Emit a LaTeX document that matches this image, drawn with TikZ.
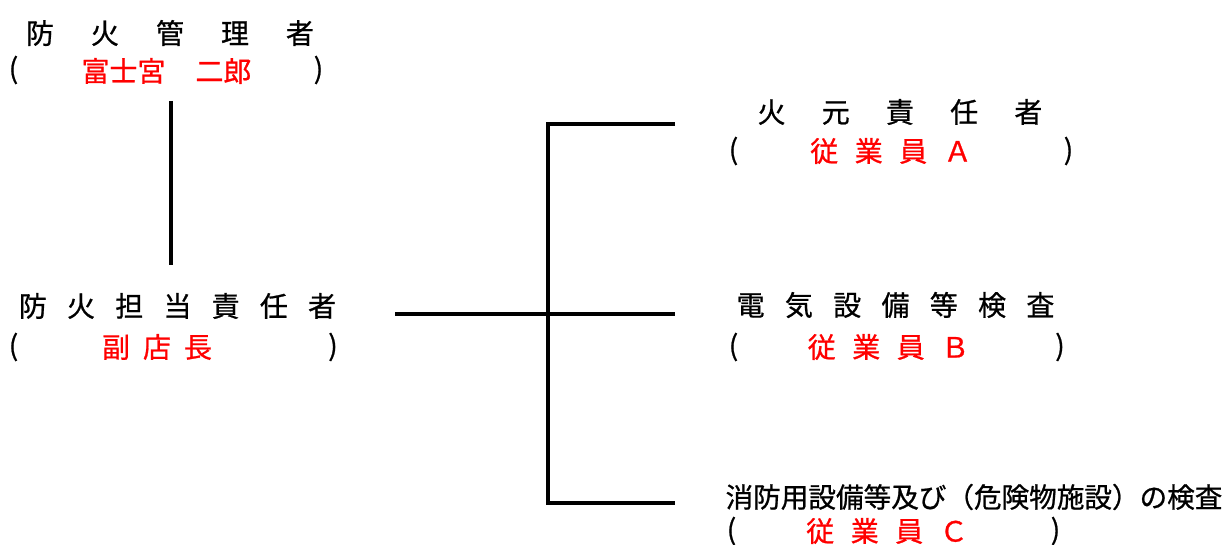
\documentclass[tikz,border=0pt]{standalone}
\usepackage{fontspec}
\setmainfont{Noto Sans CJK JP}[FakeBold=0.8]
\definecolor{namered}{RGB}{255,0,0}
\makeatletter
% put a fixed gap between the characters of a title
\newcommand{\spreadtext}[2]{\@tfor\sp@c:=#2\do{\sp@c\hspace{#1}}\unskip}
\makeatother
\tikzset{
  label/.style={inner sep=0pt, font=\fontsize{28}{30}\selectfont},
  person/.style={label, text=namered},
  conn/.style={line width=4.5pt}
}
\begin{document}
\begin{tikzpicture}[x=1pt, y=-1pt]
        \useasboundingbox (0,0) rectangle (1231,545);

        % Left column
        \node[label] (mgr) at (170,33) {\spreadtext{37pt}{防火管理者}};
        \node[label] (mgrL) at (13.5,70) {(};
        \node[person] (mgrname) at (166.5,71) {富士宮\hspace{30pt}二郎};
        \node[label] (mgrR) at (318.5,70) {)};

        \node[label] (chief) at (177.5,306) {\spreadtext{20.2pt}{防火担当責任者}};
        \node[label] (chiefL) at (13.5,347) {(};
        \node[person] (chiefname) at (157,347) {\spreadtext{13pt}{副店長}};
        \node[label] (chiefR) at (333,347) {)};

        % Right column
        \node[label] (fire) at (900,112) {\spreadtext{36.2pt}{火元責任者}};
        \node[label] (fireL) at (733.5,151) {(};
        \node[person] (firename) at (891,151) {\spreadtext{16.5pt}{従業員Ａ}};
        \node[label] (fireR) at (1068.5,151) {)};

        \node[label] (elec) at (895.5,305) {\spreadtext{20.3pt}{電気設備等検査}};
        \node[label] (elecL) at (733.5,347) {(};
        \node[person] (elecname) at (888.5,347) {\spreadtext{16.5pt}{従業員Ｂ}};
        \node[label] (elecR) at (1060,347) {)};

        \node[label] (insp) at (974,497) {\fontsize{27.6}{30}\selectfont 消防用設備等及び（危険物施設）の検査};
        \node[label] (inspL) at (731.5,531) {(};
        \node[person] (inspname) at (887,531) {\spreadtext{16.5pt}{従業員Ｃ}};
        \node[label] (inspR) at (1055.5,531) {)};

        % Connector ends
        \coordinate (mgrfoot) at (171,101);
        \coordinate (chiefhead) at (171,265);
        \coordinate (chieftail) at (395,314);
        \coordinate (trunktop) at (548,124);
        \coordinate (trunkbot) at (548,503);
        \coordinate (firetip) at (675,124);
        \coordinate (electip) at (675,314);
        \coordinate (insptip) at (675,503);

        % Lines
        \draw[conn] (mgrfoot) -- (chiefhead);
        \draw[conn] (chieftail) -- (electip);
        \draw[conn] (firetip) -- (trunktop) -- (trunkbot) -- (insptip);
    \end{tikzpicture}
\end{document}
